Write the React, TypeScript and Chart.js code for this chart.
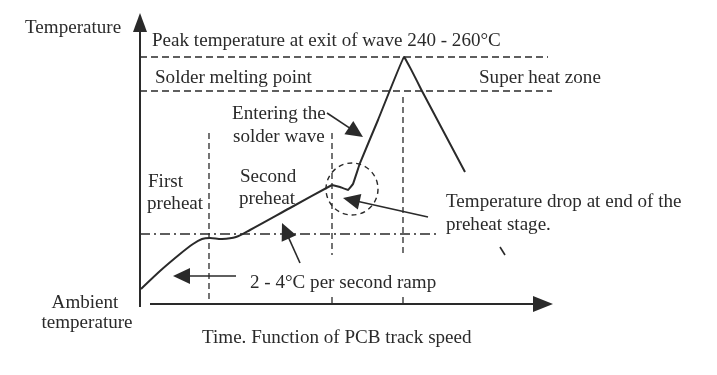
import React, { useEffect, useRef } from "react";
import { Chart, registerables } from "chart.js";

Chart.register(...registerables);

// Soldering temperature profile (schematic units: time → x, temperature → y)
// Preheat part (smooth)
const preheatTime = [141, 160, 180, 193, 202, 210, 222, 236, 250, 290, 332];
const preheatTemp = [86, 104, 121, 131, 136, 137, 136, 138, 145, 167, 190];
// Wave part (sharp)
const waveTime = [332, 340, 348, 353, 360, 378, 404, 422, 465];
const waveTemp = [190, 188, 185, 191, 212, 255, 318, 284, 203];

// Reference levels
const peakLevel = 318;
const meltLevel = 284;
const preheatLevel = 141;
const axisTime0 = 140;
const axisTemp0 = 71;

// Stage boundaries (time)
const stageBounds = [209, 332, 403];
const stageTops = [242, 242, 278];
const stageBottoms = [71, 120, 120];

const TEXT_FONT = "18px 'Liberation Serif', 'Times New Roman', serif";
const TEXT_STRETCH = 1.06;
const INK = "#2a2a2a";

type Label = { text: string; x: number; y: number; align?: CanvasTextAlign };
const labels: Label[] = [
  { text: "Temperature", x: 25, y: 347 },
  { text: "Peak temperature at exit of wave 240 - 260°C", x: 152, y: 334 },
  { text: "Solder melting point", x: 155, y: 297 },
  { text: "Super heat zone", x: 479, y: 297 },
  { text: "Entering the", x: 232, y: 261 },
  { text: "solder wave", x: 233, y: 238 },
  { text: "First", x: 148, y: 193 },
  { text: "preheat", x: 147, y: 171 },
  { text: "Second", x: 240, y: 198 },
  { text: "preheat", x: 239, y: 176 },
  { text: "Temperature drop at end of the", x: 446, y: 173 },
  { text: "preheat stage.", x: 446, y: 150 },
  { text: "2 - 4°C per second ramp", x: 250, y: 92 },
  { text: "Ambient", x: 85, y: 72, align: "center" },
  { text: "temperature", x: 87, y: 52, align: "center" },
  { text: "Time. Function of PCB track speed", x: 202, y: 37 },
];

// Annotation arrows: [fromX, fromY, toX, toY]
const arrows: number[][] = [
  [327, 262, 363, 238],
  [428, 158, 343, 177],
  [300, 112, 282, 152],
  [236, 99, 173, 99],
];

const diagramPlugin = {
  id: "diagram",
  afterDatasetsDraw(chart: any) {
    const { ctx, scales } = chart;
    const px = (v: number) => scales.x.getPixelForValue(v);
    const py = (v: number) => scales.y.getPixelForValue(v);
    ctx.save();
    const head = (x1: number, y1: number, x2: number, y2: number, len: number, half: number) => {
      const ang = Math.atan2(y2 - y1, x2 - x1);
      const bx = x2 - len * Math.cos(ang);
      const by = y2 - len * Math.sin(ang);
      ctx.beginPath();
      ctx.moveTo(x2, y2);
      ctx.lineTo(bx + half * Math.sin(ang), by - half * Math.cos(ang));
      ctx.lineTo(bx - half * Math.sin(ang), by + half * Math.cos(ang));
      ctx.closePath();
      ctx.fillStyle = INK;
      ctx.fill();
    };
    // axes
    ctx.strokeStyle = INK;
    ctx.lineWidth = 2;
    ctx.setLineDash([]);
    ctx.beginPath();
    ctx.moveTo(px(axisTime0), py(axisTemp0 - 3));
    ctx.lineTo(px(axisTime0), py(345));
    ctx.stroke();
    head(px(axisTime0), py(300), px(axisTime0), py(362), 19, 7);
    ctx.beginPath();
    ctx.moveTo(px(150), py(axisTemp0));
    ctx.lineTo(px(540), py(axisTemp0));
    ctx.stroke();
    head(px(500), py(axisTemp0), px(553), py(axisTemp0), 20, 8);

    // annotation arrows
    ctx.lineWidth = 1.6;
    for (const a of arrows) {
      const x1 = px(a[0]), y1 = py(a[1]), x2 = px(a[2]), y2 = py(a[3]);
      const ang = Math.atan2(y2 - y1, x2 - x1);
      ctx.beginPath();
      ctx.moveTo(x1, y1);
      ctx.lineTo(x2 - 10 * Math.cos(ang), y2 - 10 * Math.sin(ang));
      ctx.stroke();
      head(x1, y1, x2, y2, 17, 8);
    }

    // dashed circle around temperature drop
    ctx.lineWidth = 1.4;
    ctx.setLineDash([5, 4]);
    ctx.beginPath();
    ctx.ellipse(px(352), py(186), 26, 26, 0, 0, Math.PI * 2);
    ctx.stroke();
    ctx.setLineDash([]);

    // stray small stroke
    ctx.lineWidth = 1.6;
    ctx.beginPath();
    ctx.moveTo(px(500), py(128));
    ctx.lineTo(px(505), py(120));
    ctx.stroke();

    // text
    ctx.fillStyle = INK;
    ctx.font = TEXT_FONT;
    ctx.textBaseline = "middle";
    for (const l of labels) {
      ctx.save();
      ctx.translate(px(l.x), py(l.y));
      ctx.scale(TEXT_STRETCH, 1);
      ctx.textAlign = l.align || "left";
      ctx.fillText(l.text, 0, 0);
      ctx.restore();
    }
    ctx.restore();
  },
};

export default function App() {
  const ref = useRef<HTMLCanvasElement | null>(null);
  useEffect(() => {
    if (!ref.current) return;
    const dashed = { borderColor: INK, borderWidth: 1.3, borderDash: [7, 4], pointRadius: 0, fill: false };
    const curve = { borderColor: INK, borderWidth: 2, pointRadius: 0, fill: false };
    const datasets: any[] = [
      {
        ...curve,
        label: "Preheat profile",
        data: preheatTime.map((t, i) => ({ x: t, y: preheatTemp[i] })),
        tension: 0.3,
      },
      {
        ...curve,
        label: "Wave profile",
        data: waveTime.map((t, i) => ({ x: t, y: waveTemp[i] })),
        tension: 0.05,
      },
      { ...dashed, label: "Peak", data: [{ x: axisTime0, y: peakLevel }, { x: 548, y: peakLevel }] },
      { ...dashed, label: "Melt", data: [{ x: axisTime0, y: meltLevel }, { x: 552, y: meltLevel }] },
      {
        ...dashed,
        label: "Preheat",
        borderDash: [10, 4, 2, 4],
        data: [{ x: axisTime0, y: preheatLevel }, { x: 440, y: preheatLevel }],
      },
    ];
    stageBounds.forEach((b, i) => {
      datasets.push({ ...dashed, borderDash: [6, 4], label: "Stage" + i, data: [{ x: b, y: stageTops[i] }, { x: b, y: stageBottoms[i] }] });
      if (stageBottoms[i] > axisTemp0) {
        datasets.push({ ...dashed, borderDash: [], label: "Tick" + i, data: [{ x: b, y: axisTemp0 }, { x: b, y: axisTemp0 + 7 }] });
      }
    });
    const chart = new Chart(ref.current, {
      type: "line",
      data: { datasets },
      options: {
        animation: false,
        responsive: false,
        layout: { padding: 0 },
        plugins: { legend: { display: false }, tooltip: { enabled: false } },
        scales: {
          x: { type: "linear", min: 0, max: 717, display: false },
          y: { type: "linear", min: 0, max: 375, display: false },
        },
      },
      plugins: [diagramPlugin],
    });
    return () => chart.destroy();
  }, []);
  return (
    <div style={{ position: "absolute", left: 0, top: 0, width: 717, height: 375, background: "#fff" }}>
      <canvas ref={ref} width={717} height={375} />
    </div>
  );
}
